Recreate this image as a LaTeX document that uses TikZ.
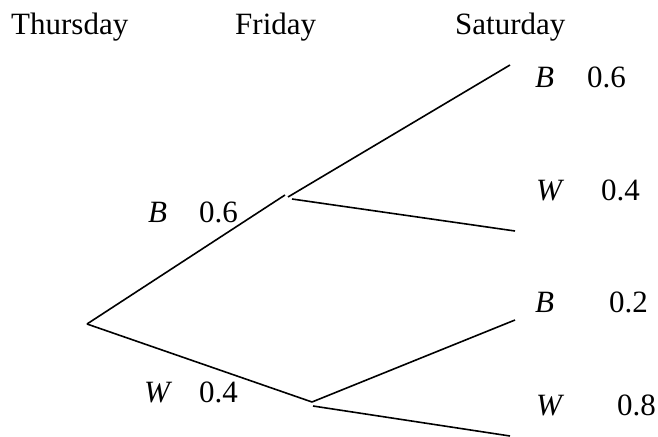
\documentclass[tikz,border=0pt]{standalone}
\usepackage{fontspec}
\setmainfont{Liberation Serif}
\begin{document}
\begin{tikzpicture}[x=1pt,y=-1pt,
  lbl/.style={anchor=base west,inner sep=0pt,font=\fontsize{31}{36}\selectfont},
  branch/.style={line width=1.6pt}]
\useasboundingbox (0,0) rectangle (658,436);
% headings
\node[lbl] (thu) at (11,35) {Thursday};
\node[lbl] (fri) at (235,35) {Friday};
\node[lbl] (sat) at (455,35) {Saturday};
% tree points
\coordinate (root) at (87,324);
\coordinate (fB) at (285,195);
\coordinate (fBs) at (288,197);
\coordinate (fBs2) at (292,199);
\coordinate (fW) at (312,402);
\coordinate (fWs) at (313,406);
\coordinate (sBB) at (510,65);
\coordinate (sBW) at (515,231);
\coordinate (sWB) at (515,320);
\coordinate (sWW) at (510,436);
% branches
\draw[branch] (root) -- (fB);
\draw[branch] (root) -- (fW);
\draw[branch] (fBs) -- (sBB);
\draw[branch] (fBs2) -- (sBW);
\draw[branch] (fW) -- (sWB);
\draw[branch] (fWs) -- (sWW);
% labels
\node[lbl] (lB1) at (148,222) {\textit{B}};
\node[lbl] (pB1) at (199,222) {0.6};
\node[lbl] (lW1) at (144,402) {\textit{W}};
\node[lbl] (pW1) at (199,402) {0.4};
\node[lbl] (lBB) at (535,88) {\textit{B}};
\node[lbl] (pBB) at (587,88) {0.6};
\node[lbl] (lBW) at (536,200) {\textit{W}};
\node[lbl] (pBW) at (601,200) {0.4};
\node[lbl] (lWB) at (535,312) {\textit{B}};
\node[lbl] (pWB) at (609,312) {0.2};
\node[lbl] (lWW) at (536,415) {\textit{W}};
\node[lbl] (pWW) at (617,415) {0.8};
\end{tikzpicture}
\end{document}
